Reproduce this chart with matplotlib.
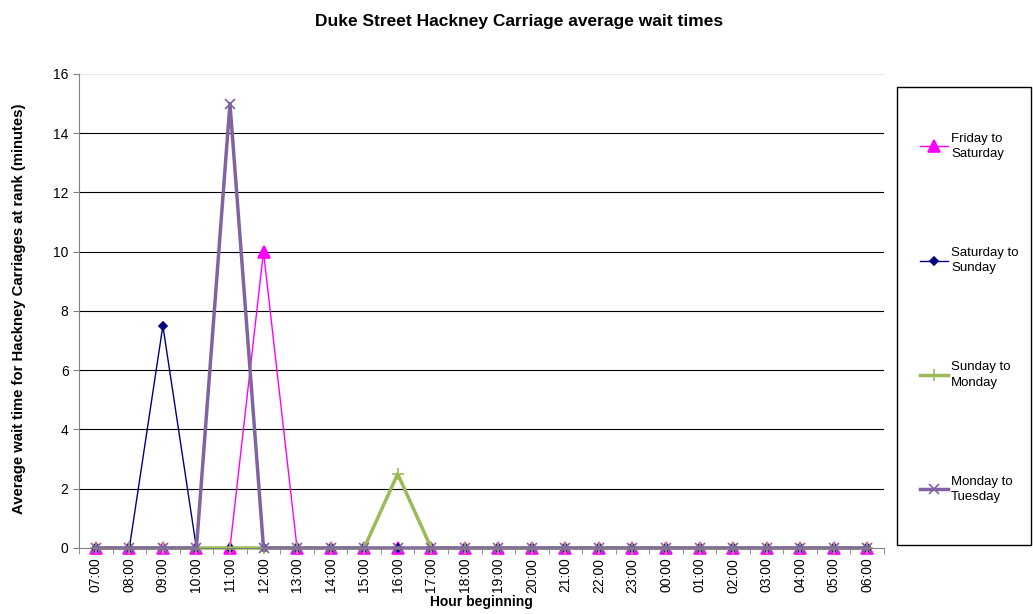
import numpy as np
import matplotlib
matplotlib.use("Agg")
import matplotlib.pyplot as plt
from matplotlib.patches import Rectangle

plt.rcParams["font.family"] = ["Liberation Sans", "DejaVu Sans"]

hours = ["07:00", "08:00", "09:00", "10:00", "11:00", "12:00", "13:00", "14:00",
         "15:00", "16:00", "17:00", "18:00", "19:00", "20:00", "21:00", "22:00",
         "23:00", "00:00", "01:00", "02:00", "03:00", "04:00", "05:00", "06:00"]

fri_sat = [0, 0, 0, 0, 0, 10, 0, 0, 0, 0, 0, 0, 0, 0, 0, 0, 0, 0, 0, 0, 0, 0, 0, 0]
sat_sun = [0, 0, 7.5, 0, 0, 0, 0, 0, 0, 0, 0, 0, 0, 0, 0, 0, 0, 0, 0, 0, 0, 0, 0, 0]
sun_mon = [0, 0, 0, 0, 0, 0, 0, 0, 0, 2.5, 0, 0, 0, 0, 0, 0, 0, 0, 0, 0, 0, 0, 0, 0]
mon_tue = [0, 0, 0, 0, 15, 0, 0, 0, 0, 0, 0, 0, 0, 0, 0, 0, 0, 0, 0, 0, 0, 0, 0, 0]

series = [
    ("Friday to\nSaturday", fri_sat, "#FF00FF", "^", 1.0, 8),
    ("Saturday to\nSunday", sat_sun, "#000080", "D", 1.0, 4),
    ("Sunday to\nMonday", sun_mon, "#9BBB59", "+", 2.5, 8),
    ("Monday to\nTuesday", mon_tue, "#8064A2", "x", 2.5, 7),
]

fig = plt.figure(figsize=(10.33, 6.14), dpi=100)
ax = fig.add_axes([0.0765, 0.1075, 0.7793, 0.772])

x = np.arange(len(hours))
for label, vals, col, mk, lw, ms in series:
    ax.plot(x, vals, color=col, lw=lw, marker=mk, markersize=ms,
            markeredgecolor=col, markerfacecolor=col, markeredgewidth=1.2,
            label=label, clip_on=False)

ax.set_xlim(-0.5, len(hours) - 0.5)
ax.set_ylim(0, 16)
ax.set_yticks(np.arange(0, 17, 2))
ax.set_xticks(x)
ax.set_xticklabels(hours, rotation=90, fontsize=10)
ax.set_xticks(np.arange(-0.5, len(hours)), minor=True)
ax.tick_params(axis="x", which="major", length=0, pad=7)
ax.tick_params(axis="x", which="minor", length=4, direction="out", color="#808080")
ax.tick_params(axis="y", length=4, direction="out", color="#808080", labelsize=10)

for yv in range(2, 15, 2):
    ax.axhline(yv, color="black", lw=0.8, zorder=0)
ax.axhline(16, color="#e6e6e6", lw=0.8, zorder=0)

for s in ("top", "right"):
    ax.spines[s].set_visible(False)
for s in ("left", "bottom"):
    ax.spines[s].set_color("#808080")

ax.set_xlabel("Hour beginning", fontsize=10, fontweight="bold", labelpad=2)
ax.set_ylabel("Average wait time for Hackney Carriages at rank (minutes)",
              fontsize=10.7, fontweight="bold")
ax.yaxis.set_label_coords(-0.0656, 0.504)
fig.suptitle("Duke Street Hackney Carriage average wait times",
             fontsize=12.5, fontweight="bold", x=0.502, y=0.978)

# legend box drawn separately so its size can follow the plot height
fig.add_artist(Rectangle((897 / 1033, 69 / 614), 134 / 1033, 458 / 614,
                         transform=fig.transFigure, fill=False,
                         edgecolor="black", lw=1.0))
leg = fig.legend(loc="upper left", bbox_to_anchor=(920 / 1033, 481 / 614),
                 fontsize=9.5, frameon=False, labelspacing=6.6,
                 handlelength=2.1, handletextpad=0.25,
                 borderpad=0, borderaxespad=0)
for t in leg.get_texts():
    t.set_linespacing(1.35)

fig.savefig("out.png", dpi=100)
